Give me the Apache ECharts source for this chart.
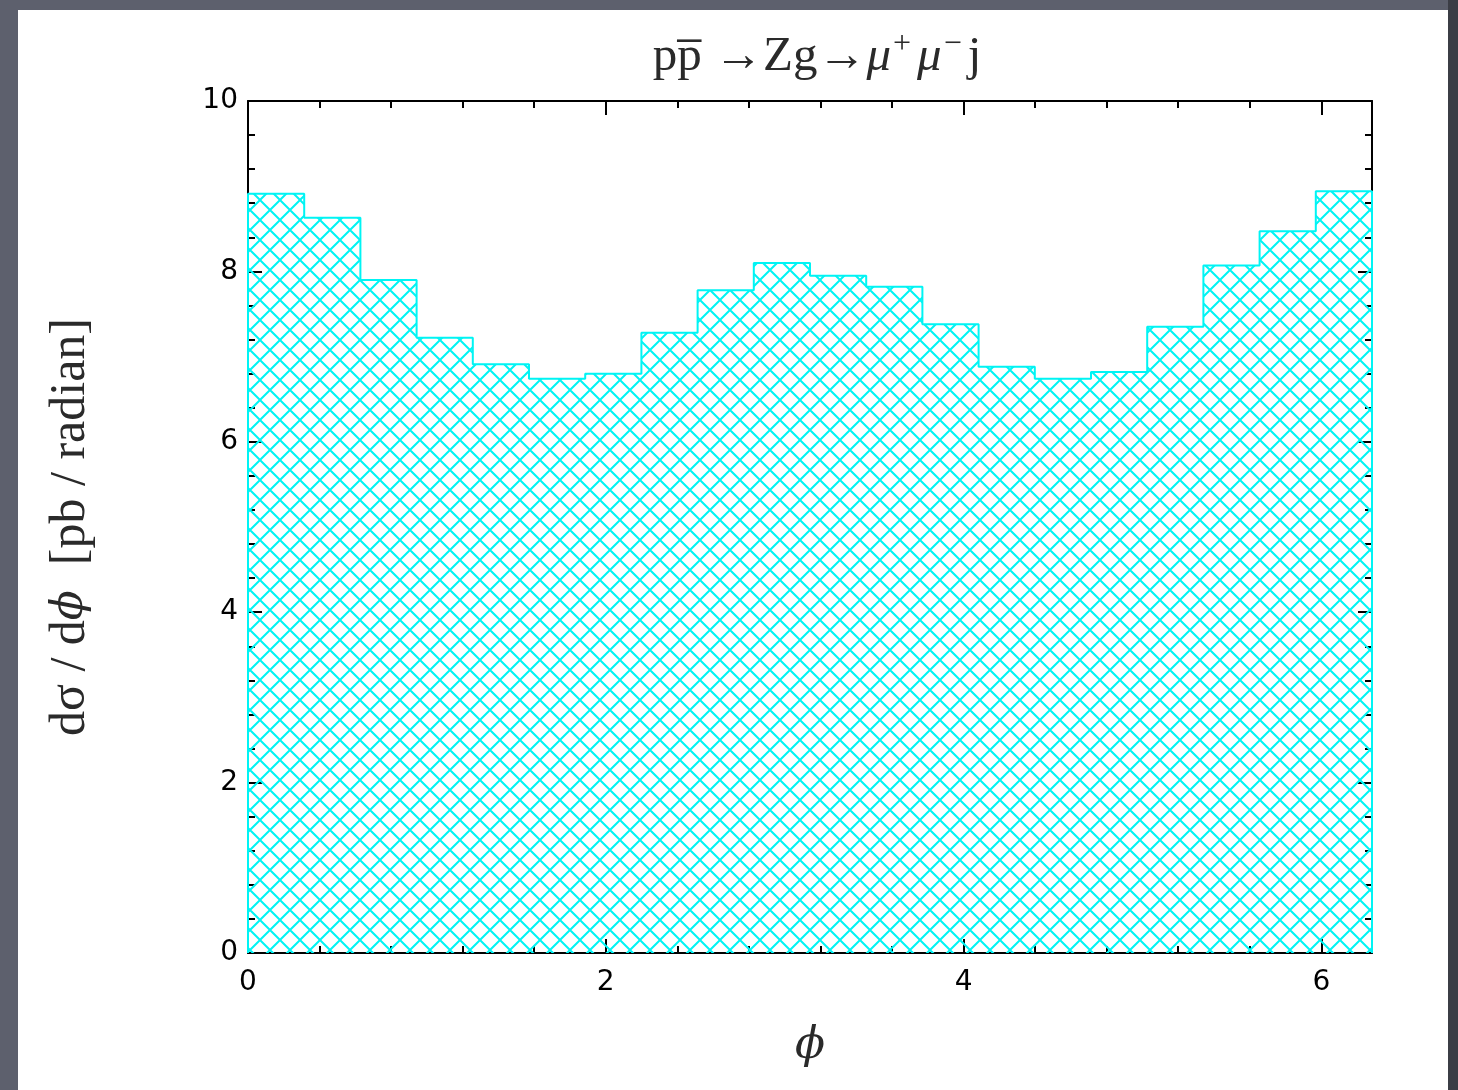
<!DOCTYPE html>
<html>
<head>
<meta charset="utf-8">
<script src="https://cdn.jsdelivr.net/npm/echarts@6/dist/echarts.min.js"></script>
<style>
    html, body { margin: 0; padding: 0; }
    body {
        width: 1458px; height: 1090px; overflow: hidden;
        background: linear-gradient(to right, #5d606d 0, #5d606d 1448px, #3b3d45 1448px);
        position: relative;
    }
    #panel { position: absolute; left: 18px; top: 10px; width: 1430px; height: 1080px; background: #fff; }
    #chart { position: absolute; left: 0; top: 0; width: 1458px; height: 1090px; }
</style>
</head>
<body>
<div id="panel"></div>
<div id="chart"></div>
<script>
// 20 bins over [0, 2*pi]
const binCount = 20;
const phiMax = 2 * Math.PI;
const binValues = [8.91, 8.63, 7.90, 7.22, 6.91, 6.74, 6.80, 7.28, 7.78, 8.10,
                   7.95, 7.82, 7.38, 6.88, 6.74, 6.82, 7.35, 8.07, 8.47, 8.94];
const xTicks = [0, 2, 4, 6];
const yTicks = [0, 2, 4, 6, 8, 10];

const binWidth = phiMax / binCount;

// step outline of the histogram, closed down to zero at both ends
const outline = [[0, 0]];
binValues.forEach((v, i) => outline.push([i * binWidth, v]));
outline.push([phiMax, binValues[binCount - 1]]);
outline.push([phiMax, 0]);

const cyan = '#00f4f4';

// cross-hatch tile
function hatchTile() {
    const s = 20;
    const c = document.createElement('canvas');
    c.width = s; c.height = s;
    const g = c.getContext('2d');
    g.strokeStyle = cyan;
    g.lineWidth = 2;
    g.beginPath();
    for (const o of [-s, 0, s]) {
        g.moveTo(o - 2, -2); g.lineTo(o + s + 2, s + 2);
        g.moveTo(o - 2, s + 2); g.lineTo(o + s + 2, -2);
    }
    g.stroke();
    return c;
}

const chart = echarts.init(document.getElementById('chart'));

const tickFont = { fontFamily: 'DejaVu Sans', fontSize: 28, color: '#000' };
const serif = 'Liberation Serif';
const textColor = '#2a2a2a';

const baseX = {
    type: 'value', min: 0, max: phiMax, interval: 2,
    axisLine: { show: true, onZero: false, lineStyle: { color: '#000', width: 2 } },
    axisTick: { show: true, inside: true, length: 14, lineStyle: { color: '#000', width: 2 } },
    minorTick: { show: true, splitNumber: 5, length: 7, lineStyle: { color: '#000', width: 2 } },
    splitLine: { show: false }
};
const baseY = {
    type: 'value', min: 0, max: 10, interval: 2,
    axisLine: { show: true, onZero: false, lineStyle: { color: '#000', width: 2 } },
    axisTick: { show: true, inside: true, length: 14, lineStyle: { color: '#000', width: 2 } },
    minorTick: { show: true, splitNumber: 5, length: 7, lineStyle: { color: '#000', width: 2 } },
    splitLine: { show: false }
};

const option = {
    animation: false,
    title: {
        text: '{n|pp\u0305 \u2192Zg\u2192}{i|\u03bc}{s|+}{i|\u03bc}{s|\u2212}{n|j}',
        left: 812, top: 24, textAlign: 'center',
        textStyle: {
            fontWeight: 'normal',
            rich: {
                n: { fontFamily: serif, fontSize: 49, fontWeight: 'normal', color: textColor },
                i: { fontFamily: serif, fontSize: 49, fontStyle: 'italic', fontWeight: 'normal', color: textColor },
                s: { fontFamily: serif, fontSize: 32, fontWeight: 'normal', color: textColor,
                     verticalAlign: 'top', padding: [0, 6, 24, 2] }
            }
        }
    },
    grid: { left: 248, right: 86, top: 101, bottom: 137, containLabel: false },
    xAxis: [
        Object.assign({}, baseX, {
            position: 'bottom',
            name: '\u03d5', nameLocation: 'middle', nameGap: 72,
            nameTextStyle: { fontFamily: 'DejaVu Serif', fontSize: 44, fontStyle: 'italic', color: textColor },
            axisLabel: Object.assign({ margin: 16, showMaxLabel: false,
                formatter: v => xTicks.includes(v) ? String(v) : '' }, tickFont)
        }),
        Object.assign({}, baseX, { position: 'top', axisLabel: { show: false } })
    ],
    yAxis: [
        Object.assign({}, baseY, {
            position: 'left',
            name: '{a|d\u03c3 / d}{p|\u03d5}{a|  [pb / radian]}', nameLocation: 'middle', nameGap: 152, nameRotate: 90,
            nameTextStyle: {
                rich: {
                    a: { fontFamily: serif, fontSize: 50, color: textColor },
                    p: { fontFamily: 'DejaVu Serif', fontSize: 44, fontStyle: 'italic', color: textColor }
                }
            },
            axisLabel: Object.assign({ margin: 10,
                formatter: v => yTicks.includes(v) ? String(v) : '' }, tickFont)
        }),
        Object.assign({}, baseY, { position: 'right', axisLabel: { show: false } })
    ],
    series: [{
        type: 'line',
        step: 'end',
        data: outline,
        symbol: 'none',
        lineStyle: { color: cyan, width: 2 },
        areaStyle: { color: { image: hatchTile(), repeat: 'repeat' }, opacity: 1 },
        z: 1
    }]
};

chart.setOption(option);
</script>
</body>
</html>
